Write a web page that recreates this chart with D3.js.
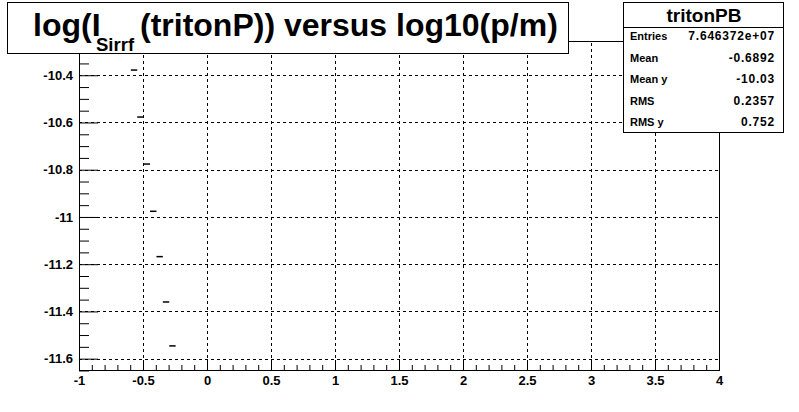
<!DOCTYPE html>
<html>
<head>
<meta charset="utf-8">
<script src="https://cdn.jsdelivr.net/npm/d3@7/dist/d3.min.js"></script>
<style>
  body { margin: 0; background: #fff; }
  svg { display: block; font-family: "Liberation Sans", Arial, sans-serif; font-weight: bold; }
</style>
</head>
<body>
<svg id="chart" width="799" height="412"></svg>
<script>
// x axis: log10(p/m), y axis: log(I_Sirrf)
const x_major = [-1, -0.5, 0, 0.5, 1, 1.5, 2, 2.5, 3, 3.5, 4];
const x_labels = ["-1", "-0.5", "0", "0.5", "1", "1.5", "2", "2.5", "3", "3.5", "4"];
const y_major = [-10.4, -10.6, -10.8, -11, -11.2, -11.4, -11.6];
const y_labels = ["-10.4", "-10.6", "-10.8", "-11", "-11.2", "-11.4", "-11.6"];

// filled bins: left edge, right edge, y value
const bin_lo = [-0.595, -0.545, -0.495, -0.445, -0.395, -0.345, -0.295];
const bin_hi = [-0.545, -0.495, -0.445, -0.395, -0.345, -0.295, -0.245];
const bin_y = [-10.378, -10.577, -10.776, -10.976, -11.168, -11.360, -11.546];

const stat_names = ["Entries", "Mean", "Mean y", "RMS", "RMS y"];
const stat_values = ["7.646372e+07", "-0.6892", "-10.03", "0.2357", "0.752"];

let svg = d3.select("#chart");
let frame = {left: 79, right: 719, top: 41, bottom: 370};

let x = d3.scaleLinear().domain([-1, 4]).range([frame.left, frame.right]);
let y = d3.scaleLinear().domain([-11.648, -10.255]).range([frame.bottom, frame.top]);

svg.append("rect").attr("width", 799).attr("height", 412).attr("fill", "#fff");

// grid
let grid = svg.append("g").attr("stroke", "#000").attr("stroke-width", 1).attr("stroke-dasharray", "3,3");
x_major.slice(1, -1).forEach((v) => {
  grid.append("line")
    .attr("x1", Math.round(x(v)) + 0.5).attr("x2", Math.round(x(v)) + 0.5)
    .attr("y1", frame.bottom).attr("y2", frame.top);
});
y_major.forEach((v) => {
  grid.append("line")
    .attr("x1", frame.left).attr("x2", frame.right)
    .attr("y1", Math.round(y(v)) + 0.5).attr("y2", Math.round(y(v)) + 0.5);
});

// minor ticks
let x_minor = d3.range(-1, 4.001, 0.1).filter((v) => Math.abs(v * 2 - Math.round(v * 2)) > 1e-6);
let y_minor = d3.range(-11.65, -10.25, 0.05).filter((v) => Math.abs(v * 5 - Math.round(v * 5)) > 1e-6);

let x_axis = d3.axisBottom(x).tickValues(x_major).tickSize(-10).tickPadding(6)
  .tickFormat((d, i) => x_labels[i]);
let x_axis_minor = d3.axisBottom(x).tickValues(x_minor).tickSize(-5).tickFormat("");
let y_axis = d3.axisLeft(y).tickValues(y_major).tickSize(-19).tickPadding(6)
  .tickFormat((d, i) => y_labels[i]);
let y_axis_minor = d3.axisLeft(y).tickValues(y_minor).tickSize(-10).tickFormat("");

function style_axis(g) {
  g.select(".domain").remove();
  g.selectAll("line").attr("stroke", "#000");
  g.selectAll("text").attr("fill", "#000").style("font-size", "13px").style("font-weight", "bold")
    .style("font-family", "'Liberation Sans', Arial, sans-serif");
}

svg.append("g").attr("transform", `translate(0,${frame.bottom})`).call(x_axis).call(style_axis);
svg.append("g").attr("transform", `translate(0,${frame.bottom})`).call(x_axis_minor).call(style_axis);
svg.append("g").attr("transform", `translate(${frame.left},0)`).call(y_axis).call(style_axis);
svg.append("g").attr("transform", `translate(${frame.left},0)`).call(y_axis_minor).call(style_axis);

// frame
svg.append("rect")
  .attr("x", frame.left + 0.5).attr("y", frame.top + 0.5)
  .attr("width", frame.right - frame.left).attr("height", frame.bottom - frame.top)
  .attr("fill", "none").attr("stroke", "#000");

// bins
svg.append("g").selectAll("line").data(bin_y).join("line")
  .attr("x1", (d, i) => x(bin_lo[i]))
  .attr("x2", (d, i) => x(bin_hi[i]))
  .attr("y1", (d) => y(d))
  .attr("y2", (d) => y(d))
  .attr("stroke", "#000").attr("stroke-width", 1.5);

// title box
let title = svg.append("g");
title.append("rect").attr("x", 7.5).attr("y", 2.5).attr("width", 561).attr("height", 51)
  .attr("fill", "#fff").attr("stroke", "#000");
title.append("text").attr("x", 33).attr("y", 36).style("font-size", "32px").text("log(I");
title.append("text").attr("x", 96).attr("y", 51).style("font-size", "18.5px").text("Sirrf");
title.append("text").attr("x", 140).attr("y", 36).style("font-size", "32px").text("(tritonP)) versus log10(p/m)");

// stats box
let stats = svg.append("g");
stats.append("rect").attr("x", 623.5).attr("y", 2.5).attr("width", 160).attr("height", 130)
  .attr("fill", "#fff").attr("stroke", "#000");
stats.append("line").attr("x1", 623.5).attr("x2", 783.5).attr("y1", 27.5).attr("y2", 27.5).attr("stroke", "#000");
stats.append("text").attr("x", 704).attr("y", 22).attr("text-anchor", "middle")
  .style("font-size", "19px").text("tritonPB");
let row_y = d3.scaleLinear().domain([0, 4]).range([40, 126]);
stat_names.forEach((name, i) => {
  stats.append("text").attr("x", 630).attr("y", row_y(i)).style("font-size", "11px").text(name);
  stats.append("text").attr("x", 775).attr("y", row_y(i)).attr("text-anchor", "end")
    .style("font-size", "12px").style("letter-spacing", "0.8px").text(stat_values[i]);
});
</script>
</body>
</html>
